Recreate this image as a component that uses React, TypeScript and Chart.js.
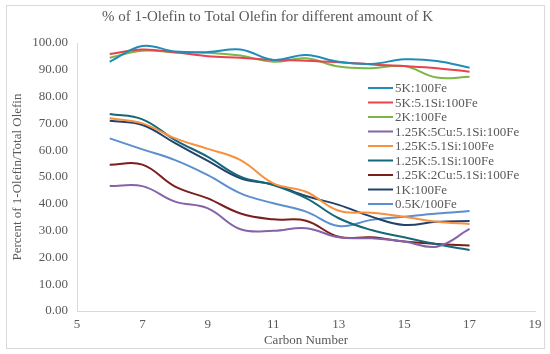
import React, { useEffect, useRef } from "react";
import { Chart, registerables } from "chart.js";

Chart.register(...registerables);

const carbon = [6, 7, 8, 9, 10, 11, 12, 13, 14, 15, 16, 17];

const s5K100Fe = [93.0, 98.9, 96.8, 96.6, 97.6, 93.7, 95.5, 93.0, 92.2, 93.9, 93.3, 90.8];
const s5K51Si = [95.9, 97.6, 96.5, 95.1, 94.5, 93.7, 93.4, 92.8, 92.0, 91.4, 90.6, 89.3];
const s2K100Fe = [94.5, 97.1, 96.5, 96.4, 95.3, 93.0, 94.3, 91.2, 90.6, 91.4, 87.1, 87.4];
const s125K5Cu = [46.6, 46.6, 40.8, 38.3, 30.5, 29.9, 30.9, 27.5, 27.1, 25.9, 24.0, 30.6];
const s125K51SiA = [71.9, 70.0, 64.4, 60.5, 56.3, 47.6, 44.5, 37.4, 36.7, 35.2, 33.3, 32.5];
const s125K51SiB = [73.5, 71.5, 63.8, 57.5, 50.1, 47.0, 42.1, 34.6, 30.2, 27.5, 24.9, 22.8];
const s125K2Cu = [54.6, 54.6, 46.4, 42.0, 36.4, 34.2, 33.7, 27.7, 27.5, 25.9, 25.0, 24.4];
const s1K100Fe = [71.0, 69.4, 62.6, 56.0, 49.5, 47.2, 42.9, 39.6, 35.2, 32.1, 33.3, 33.6];
const s05K100Fe = [64.4, 60.3, 56.3, 50.7, 43.9, 40.2, 37.1, 31.7, 34.0, 35.2, 36.4, 37.3];

const seriesLabels = [
  "5K:100Fe",
  "5K:5.1Si:100Fe",
  "2K:100Fe",
  "1.25K:5Cu:5.1Si:100Fe",
  "1.25K:5.1Si:100Fe",
  "1.25K:5.1Si:100Fe",
  "1.25K:2Cu:5.1Si:100Fe",
  "1K:100Fe",
  "0.5K/100Fe",
];
const seriesValues = [
  s5K100Fe,
  s5K51Si,
  s2K100Fe,
  s125K5Cu,
  s125K51SiA,
  s125K51SiB,
  s125K2Cu,
  s1K100Fe,
  s05K100Fe,
];
const seriesColors = [
  "#1F8DB8",
  "#E8424F",
  "#7AB648",
  "#8662A8",
  "#F7913D",
  "#16677A",
  "#7A1E1E",
  "#24416B",
  "#5B8FCF",
];

const titleText = "% of 1-Olefin to Total Olefin for different amount of K";
const xTitle = "Carbon Number";
const yTitle = "Percent of 1-Olefin/Total Olefin";

const FONT = "'Liberation Serif', 'Times New Roman', serif";
const TEXT = "#595959";

const framePlugin = {
  id: "frame",
  beforeDraw(chart: any) {
    const ctx = chart.ctx;
    ctx.save();
    ctx.fillStyle = "#ffffff";
    ctx.fillRect(0, 0, chart.width, chart.height);
    ctx.strokeStyle = "#d9d9d9";
    ctx.lineWidth = 1;
    ctx.strokeRect(6.5, 5.5, 538, 343);
    ctx.restore();
  },
};

const legendPlugin = {
  id: "customLegend",
  afterDraw(chart: any) {
    const ctx = chart.ctx;
    ctx.save();
    ctx.font = `13px ${FONT}`;
    ctx.textBaseline = "middle";
    ctx.textAlign = "left";
    const x0 = 368;
    const y0 = 88;
    const step = 14.5;
    chart.data.datasets.forEach((ds: any, i: number) => {
      const y = y0 + i * step;
      ctx.strokeStyle = ds.borderColor;
      ctx.lineWidth = 2;
      ctx.beginPath();
      ctx.moveTo(x0, y);
      ctx.lineTo(x0 + 25, y);
      ctx.stroke();
      ctx.fillStyle = TEXT;
      ctx.fillText(ds.label, x0 + 27, y + 1);
    });
    ctx.restore();
  },
};

export default function App() {
  const ref = useRef<HTMLCanvasElement | null>(null);
  useEffect(() => {
    if (!ref.current) return;
    const datasets = seriesLabels.map((label, i) => ({
      label,
      data: carbon.map((c, j) => ({ x: c, y: seriesValues[i][j] })),
      borderColor: seriesColors[i],
      backgroundColor: seriesColors[i],
      borderWidth: 2,
      pointRadius: 0,
      tension: 0.4,
      fill: false,
    }));
    const chart = new Chart(ref.current, {
      type: "line",
      data: { datasets },
      plugins: [framePlugin, legendPlugin],
      options: {
        animation: false,
        responsive: false,
        layout: { padding: { left: 0, right: 15, top: 0, bottom: 0 } },
        plugins: {
          legend: { display: false },
          tooltip: { enabled: false },
          title: {
            display: true,
            text: titleText,
            color: TEXT,
            font: { family: FONT, size: 15, weight: "normal" },
            padding: { top: 8, bottom: 17 },
          },
        },
        scales: {
          x: {
            type: "linear",
            min: 5,
            max: 19,
            afterFit: (s: any) => {
              s.height = 43;
            },
            ticks: {
              stepSize: 2,
              color: TEXT,
              font: { family: FONT, size: 13 },
              padding: 6,
              maxRotation: 0,
            },
            grid: { display: false, drawTicks: false },
            border: { display: true, color: "#d9d9d9", width: 1 },
            title: {
              display: true,
              text: xTitle,
              color: TEXT,
              font: { family: FONT, size: 13 },
              padding: { top: 0, bottom: 6 },
            },
          },
          y: {
            min: 0,
            max: 100,
            afterFit: (s: any) => {
              s.width = 77;
            },
            ticks: {
              stepSize: 10,
              color: TEXT,
              font: { family: FONT, size: 13 },
              padding: 9,
              callback: (v: any) => Number(v).toFixed(2),
            },
            grid: { display: false, drawTicks: false },
            border: { display: true, color: "#d9d9d9", width: 1 },
            title: {
              display: true,
              text: yTitle,
              color: TEXT,
              font: { family: FONT, size: 13 },
              padding: { top: 10, bottom: 0 },
            },
          },
        },
      },
    });
    return () => chart.destroy();
  }, []);
  return (
    <div style={{ position: "fixed", left: 0, top: 0, width: 550, height: 354 }}>
      <canvas ref={ref} width={550} height={354} style={{ width: 550, height: 354, display: "block" }} />
    </div>
  );
}
